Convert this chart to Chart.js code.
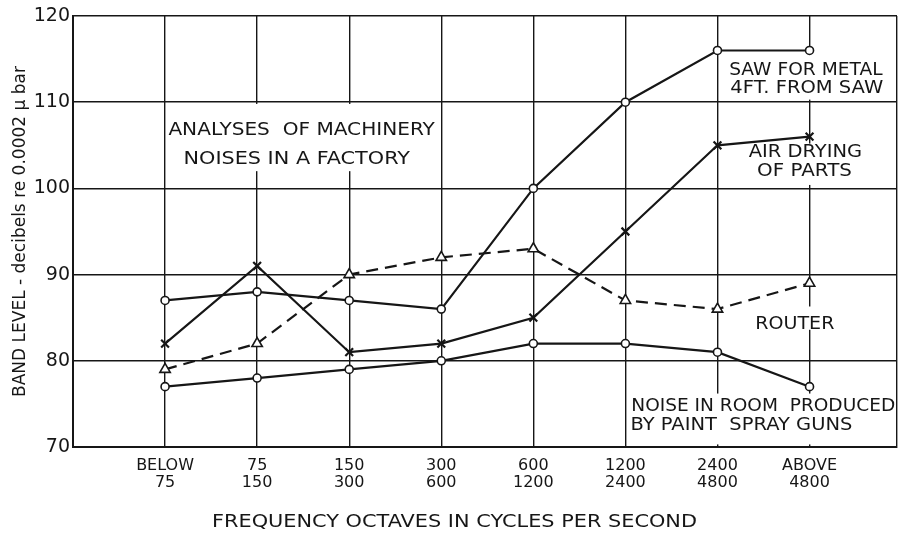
<!DOCTYPE html>
<html>
<head>
<meta charset="utf-8">
<script src="https://cdn.jsdelivr.net/npm/chart.js@4.4.0/dist/chart.umd.min.js"></script>
<style>
  html, body { margin: 0; padding: 0; background: #fff; }
</style>
</head>
<body>
<canvas id="noise-chart" width="907" height="551"></canvas>
<script>
// octave bands, one per column
const octaves = [
    ["BELOW", "75"], ["75", "150"], ["150", "300"], ["300", "600"],
    ["600", "1200"], ["1200", "2400"], ["2400", "4800"], ["ABOVE", "4800"]
];
// band levels in dB re 0.0002 microbar
const sawForMetal = [87, 88, 87, 86, 100, 110, 116, 116];
const airDrying   = [82, 91, 81, 82, 85, 95, 105, 106];
const router      = [79, 82, 90, 92, 93, 87, 86, 89];
const paintSpray  = [77, 78, 79, 80, 82, 82, 81, 77];
const levelTicks  = [70, 80, 90, 100, 110, 120];

const xTitle = "FREQUENCY OCTAVES IN CYCLES PER SECOND";
const yTitle = "BAND LEVEL - decibels re 0.0002 \u00b5 bar";

const INK = "#161616";
const FONT = "'DejaVu Sans', sans-serif";

function toPoints(values){
    return values.map((v, i) => ({ x: i, y: v }));
}

// labels written on the plot, each on a white patch that breaks the grid
const notes = [
    { box: [0.03, 2.97, 102.0, 109.8], lines: [
        { text: "ANALYSES  OF MACHINERY", x: 1.483, y: 106.9, w: 2.894 },
        { text: "NOISES IN A FACTORY", x: 1.43, y: 103.6, w: 2.46 } ] },
    { box: [6.03, 7.92, 110.3, 115.6], lines: [
        { text: "SAW FOR METAL", x: 6.96, y: 113.9, w: 1.665 },
        { text: "4FT. FROM SAW", x: 6.97, y: 111.8, w: 1.66 } ] },
    { box: [6.1, 7.9, 100.4, 105.2], lines: [
        { text: "AIR DRYING", x: 6.955, y: 104.35, w: 1.23 },
        { text: "OF PARTS", x: 6.945, y: 102.25, w: 1.03 } ] },
    { box: [6.35, 7.33, 83.6, 86.3], lines: [
        { text: "ROUTER", x: 6.84, y: 84.5, w: 0.86 } ] },
    { box: [5.04, 7.92, 70.3, 76.2], lines: [
        { text: "NOISE IN ROOM  PRODUCED", x: 6.497, y: 74.9, w: 2.866 },
        { text: "BY PAINT  SPRAY GUNS", x: 6.26, y: 72.7, w: 2.41 } ] }
];

function drawStretched(ctx, text, cx, cy, width, size){
    ctx.font = size + "px " + FONT;
    const measured = ctx.measureText(text).width;
    ctx.save();
    ctx.translate(cx, cy + size * 0.365);
    ctx.scale(width / measured, 1);
    ctx.textAlign = "center";
    ctx.textBaseline = "alphabetic";
    ctx.fillStyle = INK;
    ctx.fillText(text, 0, 0);
    ctx.restore();
}

const notesPlugin = {
    id: "notes",
    beforeDatasetsDraw(chart){
        const { ctx, scales: { x, y } } = chart;
        ctx.save();
        for(const note of notes){
            const [x0, x1, y0, y1] = note.box;
            const left = x.getPixelForValue(x0);
            const top = y.getPixelForValue(y1);
            ctx.fillStyle = "#fff";
            ctx.fillRect(left, top, x.getPixelForValue(x1) - left, y.getPixelForValue(y0) - top);

            for(const line of note.lines){
                const width = x.getPixelForValue(line.x + line.w / 2) - x.getPixelForValue(line.x - line.w / 2);
                drawStretched(ctx, line.text, x.getPixelForValue(line.x), y.getPixelForValue(line.y), width, 18);
            }
        }
        ctx.restore();
    },
    afterDraw(chart){
        // the x title sits centred on the page, not on the plot
        const { ctx, width } = chart;
        drawStretched(ctx, xTitle, width / 2 + 1, 521, 485, 17);
    }
};

const lineStyle = {
    borderColor: INK,
    borderWidth: 2.2,
    pointBorderColor: INK,
    pointBackgroundColor: "#fff",
    pointBorderWidth: 1.6,
    tension: 0,
    fill: false,
    showLine: true
};

new Chart(document.getElementById("noise-chart"), {
    type: "scatter",
    data: {
        datasets: [
            { ...lineStyle, label: "Saw for metal", data: toPoints(sawForMetal),
              pointStyle: "circle", pointRadius: 4 },
            { ...lineStyle, label: "Air drying of parts", data: toPoints(airDrying),
              pointStyle: "crossRot", pointRadius: 5.5, pointBorderWidth: 2.2 },
            { ...lineStyle, label: "Router", data: toPoints(router),
              borderDash: [12, 7], pointStyle: "triangle", pointRadius: 6 },
            { ...lineStyle, label: "Paint spray guns", data: toPoints(paintSpray),
              pointStyle: "circle", pointRadius: 4 }
        ]
    },
    options: {
        responsive: false,
        devicePixelRatio: 1,
        animation: false,
        layout: { padding: { left: 0, right: 2, top: 16, bottom: 0 } },
        plugins: {
            legend: { display: false },
            tooltip: { enabled: false }
        },
        scales: {
            x: {
                type: "linear",
                min: -1,
                max: 7.95,
                afterBuildTicks: (scale) => {
                    scale.ticks = [-1, 0, 1, 2, 3, 4, 5, 6, 7, 7.95].map((value) => ({ value }));
                },
                afterFit: (scale) => { scale.height = 104; },
                grid: { color: INK, lineWidth: 1.4, drawTicks: false },
                border: { display: true, color: INK, width: 2 },
                ticks: {
                    autoSkip: false,
                    maxRotation: 0,
                    padding: 10,
                    color: INK,
                    font: { family: FONT, size: 16, lineHeight: 1.06 },
                    callback: (value) => (Number.isInteger(value) && value >= 0) ? octaves[value] : ""
                },
                title: { display: false }
            },
            y: {
                min: 70,
                max: 120,
                afterBuildTicks: (scale) => {
                    scale.ticks = levelTicks.map((value) => ({ value }));
                },
                afterFit: (scale) => { scale.width = 73; },
                grid: { color: INK, lineWidth: 1.4, drawTicks: false },
                border: { display: true, color: INK, width: 2 },
                ticks: {
                    padding: 3,
                    color: INK,
                    font: { family: FONT, size: 19 }
                },
                title: {
                    display: true,
                    text: yTitle,
                    color: INK,
                    font: { family: FONT, size: 17 },
                    padding: { top: 10, bottom: 0 }
                }
            }
        }
    },
    plugins: [notesPlugin]
});
</script>
</body>
</html>
